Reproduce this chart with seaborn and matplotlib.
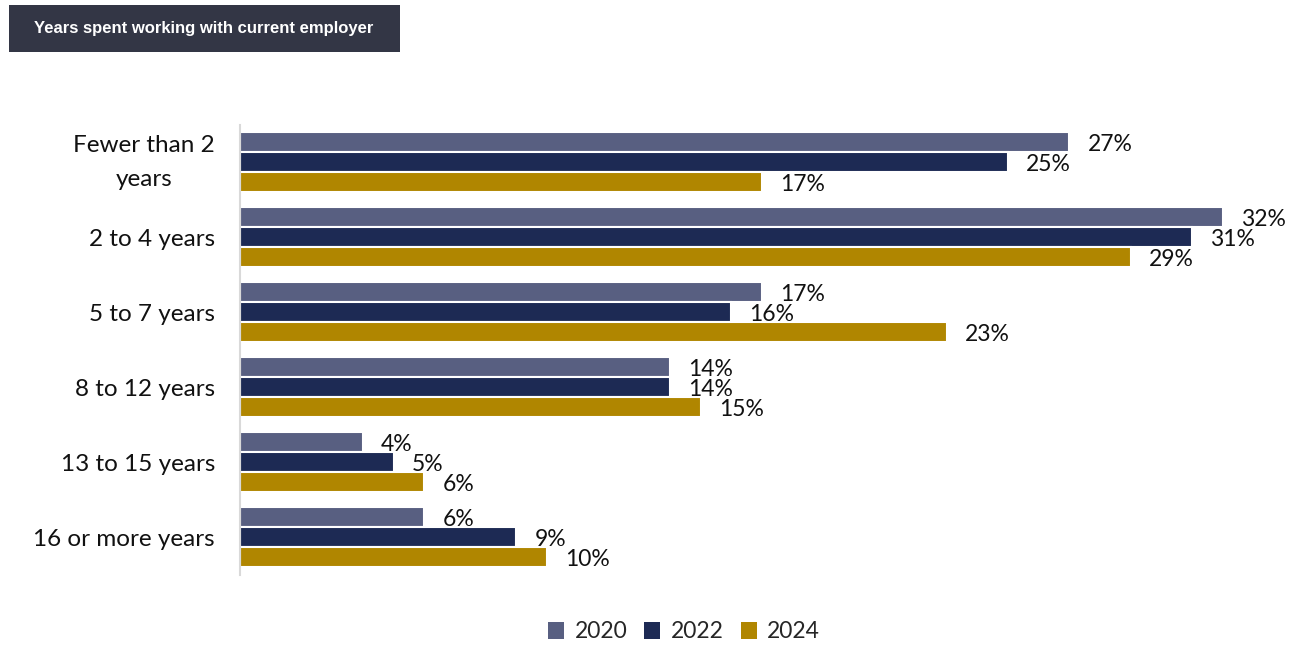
import matplotlib
matplotlib.use("Agg")
import matplotlib.pyplot as plt
import seaborn as sns
import pandas as pd
from matplotlib.patches import Rectangle

categories = ["Fewer than 2\nyears", "2 to 4 years", "5 to 7 years",
              "8 to 12 years", "13 to 15 years", "16 or more years"]
years = ["2020", "2022", "2024"]
values_2020 = [27, 32, 17, 14, 4, 6]
values_2022 = [25, 31, 16, 14, 5, 9]
values_2024 = [17, 29, 23, 15, 6, 10]
palette = {"2020": "#585F81", "2022": "#1D2A54", "2024": "#B08600"}

df = pd.DataFrame({
    "category": categories * 3,
    "year": [y for y in years for _ in categories],
    "value": values_2020 + values_2022 + values_2024,
})

sns.set_theme(style="white")
plt.rcParams["font.family"] = ["Lato", "DejaVu Sans"]

fig = plt.figure(figsize=(12.9, 6.46), dpi=100)
ax = fig.add_axes([0.186, 0.110, 0.8097, 0.6966])

sns.barplot(data=df, y="category", x="value", hue="year", order=categories,
            hue_order=years, palette=palette, orient="h", width=0.8,
            edgecolor="white", linewidth=1.5, saturation=1, ax=ax)

# Value labels just past the end of each bar
for container in ax.containers:
    for bar, v in zip(container, container.datavalues):
        ax.annotate(f"{v:.0f}%",
                    xy=(bar.get_width(), bar.get_y() + bar.get_height() / 2),
                    xytext=(18, -2), textcoords="offset pixels",
                    ha="left", va="center", fontsize=16.5, color="#111111")

ax.set_xlim(0, 34)
ax.set_ylim(5.5, -0.5)
ax.set_xlabel("")
ax.set_ylabel("")
ax.set_xticks([])
for side in ["top", "right", "bottom"]:
    ax.spines[side].set_visible(False)
ax.spines["left"].set_color("#D9D9D9")
ax.spines["left"].set_linewidth(1.5)
ax.tick_params(axis="y", length=0, pad=18, labelsize=17.5, labelcolor="#111111")
for lbl in ax.get_yticklabels():
    if "\n" in lbl.get_text():
        lbl.set_multialignment("center")
        lbl.set_linespacing(1.75)
        lbl.set_va("center")

leg = ax.legend(loc="center", bbox_to_anchor=(684 / 1290, 1 - 632 / 646),
                bbox_transform=fig.transFigure, ncol=3, frameon=False,
                fontsize=16.5, handlelength=0.7, handleheight=0.7,
                handletextpad=0.45, columnspacing=0.75)
for h in leg.legend_handles:
    h.set_edgecolor("none")

# Header banner
fig.patches.append(Rectangle((9 / 1290, 1 - 52 / 646), 391 / 1290, 47 / 646,
                             transform=fig.transFigure, facecolor="#333645",
                             edgecolor="none", zorder=0))
fig.text(204 / 1290, 1 - 29 / 646, "Years spent working with current employer",
         ha="center", va="center", color="white", fontsize=12,
         fontweight="bold", family="Liberation Sans")

fig.savefig("out.png", dpi=100)
